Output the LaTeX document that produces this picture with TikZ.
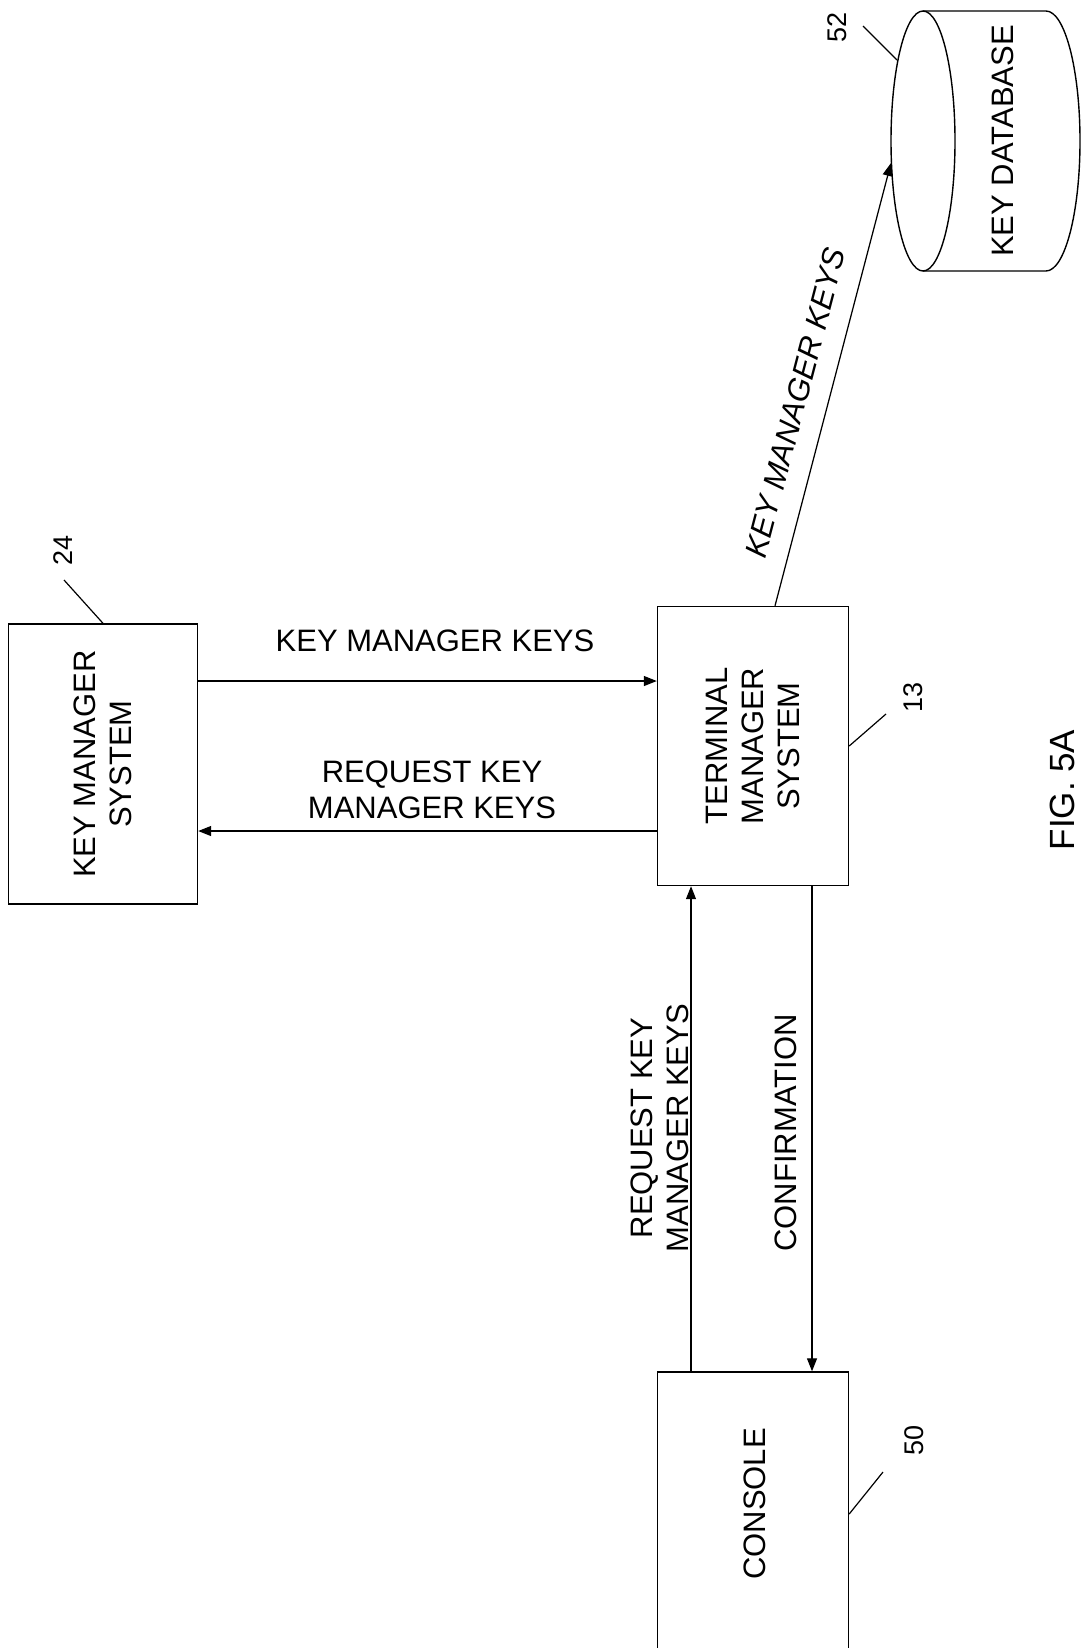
\documentclass[tikz,border=0pt]{standalone}
\usepackage{fontspec}
\setmainfont{Liberation Sans}
\usetikzlibrary{arrows.meta}
\begin{document}
\begin{tikzpicture}[x=1pt,y=1pt,
  box/.style={draw, line width=1.4pt, inner sep=0pt},
  lbl/.style={font=\fontsize{31}{36}\selectfont, align=center, inner sep=0pt},
  num/.style={font=\fontsize{27}{29}\selectfont, rotate=90, inner sep=0pt},
  flow/.style={line width=1.25pt, -{Triangle[length=13pt,width=10pt]}},
  lead/.style={line width=1.2pt}]
\useasboundingbox (0,0) rectangle (1083,-1648);
\clip (0,0) rectangle (1083,-1648);
% boxes
\node[box, minimum width=189pt, minimum height=280pt] (kms) at (103,-764) {};
\node[lbl, rotate=90] (kmst) at (kms) {KEY MANAGER\\SYSTEM};
\node[box, minimum width=191pt, minimum height=279pt] (tms) at (753,-746) {};
\node[lbl, rotate=90] (tmst) at (tms) {TERMINAL\\MANAGER\\SYSTEM};
\node[box, minimum width=191pt, minimum height=310pt] (cons) at (753,-1527) {};
\node[lbl, rotate=90] (const) at (755,-1504) {CONSOLE};
% database cylinder
\draw[line width=1.4pt] (923,-141) ellipse [x radius=32, y radius=130];
\draw[line width=1.4pt] (923,-11) -- (1046,-11)
   arc[start angle=90, end angle=-90, x radius=34, y radius=130] -- (923,-271);
\node[lbl, rotate=90] (db) at (1003,-141) {KEY DATABASE};
\coordinate (dbin) at (891,-163);
% helper coordinates
\coordinate (ya) at (0,-681);
\coordinate (yb) at (0,-831);
\coordinate (xa) at (691,0);
\coordinate (xb) at (812,0);
\coordinate (xc) at (775,0);
% connectors
\draw[flow] (kms.east |- ya) -- (tms.west |- ya);
\draw[flow] (tms.west |- yb) -- (kms.east |- yb);
\draw[flow] (cons.north -| xa) -- (tms.south -| xa);
\draw[flow] (tms.south -| xb) -- (cons.north -| xb);
\draw[flow] (tms.north -| xc) -- (dbin)
  node[pos=0.44, sloped, above=20pt, lbl, font=\fontsize{31}{36}\selectfont\itshape] (dlbl) {KEY MANAGER KEYS};
% connector labels
\node[lbl] (l1) at (435,-641) {KEY MANAGER KEYS};
\node[lbl] (l2) at (432,-790) {REQUEST KEY\\MANAGER KEYS};
\node[lbl, rotate=90] (l3) at (660,-1128) {REQUEST KEY\\MANAGER KEYS};
\node[lbl, rotate=90] (l4) at (786,-1133) {CONFIRMATION};
% reference numerals
\node[num] (n24) at (63,-550) {24};
\draw[lead] (kms.north) -- (64,-580);
\node[num] (n13) at (913,-697) {13};
\draw[lead] (tms.east) -- (886,-714);
\coordinate (y50) at (0,-1514);
\node[num] (n50) at (914,-1440) {50};
\draw[lead] (cons.east |- y50) -- (883,-1472);
\node[num] (n52) at (837,-27) {52};
\draw[lead] (897,-60) -- (863,-26);
% figure label
\node[lbl, rotate=90, font=\fontsize{35}{40}\selectfont] (fig) at (1062,-790) {FIG. 5A};
\end{tikzpicture}
\end{document}
